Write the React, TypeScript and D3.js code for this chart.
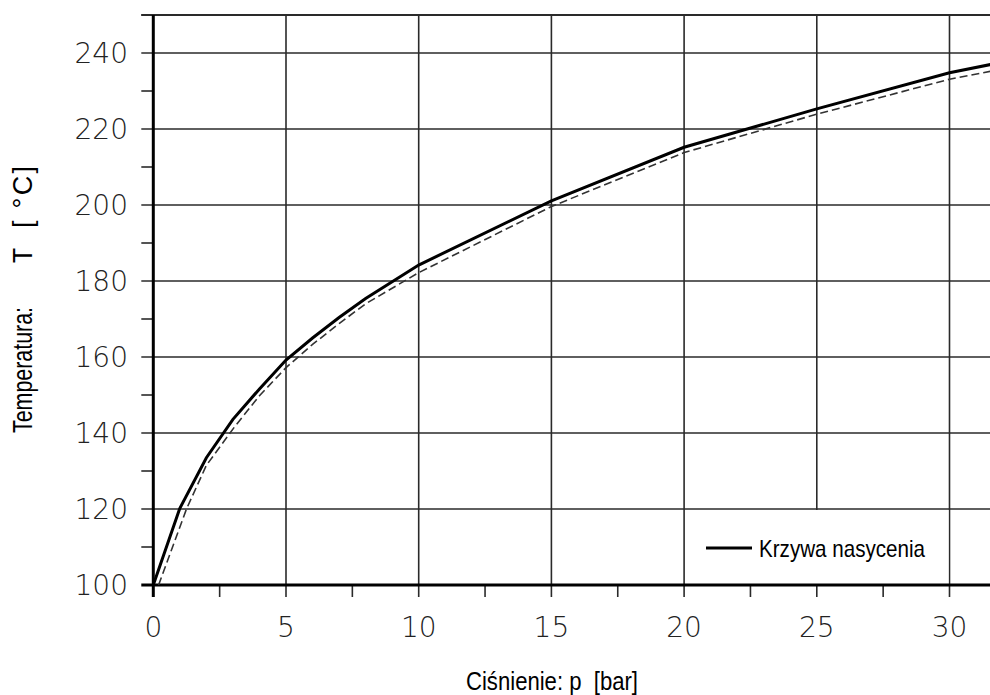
import React from "react";
import * as d3 from "d3";

// Saturation curve (solid) – gauge pressure [bar] vs temperature [°C]
const pSolid = [0, 1, 2, 3, 4, 5, 6, 7, 8, 10, 15, 20, 25, 30, 32];
const tSolid = [100, 120.2, 133.5, 143.6, 151.6, 159.2, 165.0, 170.4, 175.4, 184.2, 201.1, 215.2, 225.3, 234.8, 237.6];

// Second curve (dashed)
const pDashed = [0.2, 1.25, 2, 3.05, 4, 5, 6, 7, 8, 10, 15, 20, 25, 30, 32];
const tDashed = [100, 120, 131.5, 141.5, 149.8, 157.2, 163.3, 168.8, 174.0, 182.2, 199.6, 213.8, 223.9, 233.1, 235.8];

const xMajorTicks = [0, 5, 10, 15, 20, 25, 30];
const xMinorTicks = [2.5, 7.5, 12.5, 17.5, 22.5, 27.5];
const yMajorTicks = [100, 120, 140, 160, 180, 200, 220, 240];
const yMinorTicks = [110, 130, 150, 170, 190, 210, 230, 250];

const xTitle = "Ciśnienie: p  [bar]";
const yTitleParts = ["Temperatura:", "T", "[ °C]"];
const legendLabel = "Krzywa nasycenia";

const W = 990;
const H = 695;

export default function App() {
  const x = d3.scaleLinear().domain([0, 30]).range([153.3, 949.5]);
  const y = d3.scaleLinear().domain([100, 240]).range([585, 53]);

  const line = d3
    .line<[number, number]>()
    .x((d) => x(d[0]))
    .y((d) => y(d[1]))
    .curve(d3.curveLinear);

  const solidData = pSolid.map((p, i) => [p, tSolid[i]] as [number, number]);
  const dashedData = pDashed.map((p, i) => [p, tDashed[i]] as [number, number]);

  const gridColor = "#2a2a2a";
  const tickFont = "'DejaVu Sans', sans-serif";
  const labelFont = "'Liberation Sans', Arial, sans-serif";
  const top = y(250);
  const x0 = x(0);
  const y0 = y(100);
  const tickLen = 12;

  const vGrid = [5, 10, 15, 20, 25, 30];
  const hGrid = [120, 140, 160, 180, 200, 220, 240];

  return (
    <svg
      width={W}
      height={H}
      style={{ position: "absolute", left: 0, top: 0, background: "#fff" }}
    >
      <defs>
        <clipPath id="plot">
          <rect x={x0} y={top} width={W - x0} height={y0 - top} />
        </clipPath>
      </defs>
      <rect x={0} y={0} width={W} height={H} fill="#fff" />

      {/* horizontal grid */}
      {hGrid.map((v) => (
        <line key={"h" + v} x1={x0 - tickLen} x2={W} y1={y(v)} y2={y(v)} stroke={gridColor} strokeWidth={1.6} />
      ))}
      {/* top border */}
      <line x1={x0 - tickLen} x2={W} y1={top} y2={top} stroke={gridColor} strokeWidth={1.8} />

      {/* vertical grid */}
      {vGrid.map((v) => (
        <line key={"v" + v} x1={x(v)} x2={x(v)} y1={top} y2={y0 + tickLen} stroke={gridColor} strokeWidth={1.6} />
      ))}

      {/* legend box masks grid */}
      <rect x={x(20) + 1} y={y(120) + 1} width={x(30) - x(20) - 2} height={y(100) - y(120) - 2} fill="#fff" />

      {/* minor y ticks */}
      {yMinorTicks.map((v) => (
        <line key={"ym" + v} x1={x0 - tickLen} x2={x0} y1={y(v)} y2={y(v)} stroke={gridColor} strokeWidth={1.6} />
      ))}
      {/* minor x ticks */}
      {xMinorTicks.map((v) => (
        <line key={"xm" + v} x1={x(v)} x2={x(v)} y1={y0} y2={y0 + tickLen} stroke={gridColor} strokeWidth={1.6} />
      ))}

      {/* axes */}
      <line x1={x0 - tickLen} x2={W} y1={y0} y2={y0} stroke="#000" strokeWidth={3} />
      <line x1={x0} x2={x0} y1={top} y2={y0 + tickLen} stroke="#000" strokeWidth={3} />

      {/* curves */}
      <g clipPath="url(#plot)">
        <path d={line(dashedData) || ""} fill="none" stroke="#333" strokeWidth={1.6} strokeDasharray="8,4" />
        <path d={line(solidData) || ""} fill="none" stroke="#000" strokeWidth={3} />
      </g>

      {/* y tick labels */}
      {yMajorTicks.map((v) => (
        <text
          key={"yl" + v}
          x={128}
          y={y(v) + 10}
          textAnchor="end"
          fontFamily={tickFont}
          fontWeight={200}
          fontSize={28}
          fill="#222"
        >
          {v}
        </text>
      ))}
      {/* x tick labels */}
      {xMajorTicks.map((v) => (
        <text
          key={"xl" + v}
          x={x(v)}
          y={637}
          textAnchor="middle"
          fontFamily={tickFont}
          fontWeight={200}
          fontSize={28}
          fill="#222"
        >
          {v}
        </text>
      ))}

      {/* x title */}
      <text
        x={466}
        y={690}
        fontFamily={labelFont}
        fontSize={26}
        textLength={172}
        lengthAdjust="spacingAndGlyphs"
        fill="#000"
        style={{ whiteSpace: "pre" }}
      >
        {xTitle}
      </text>

      {/* y title */}
      <g transform="translate(32,0) rotate(-90)">
        <text x={-433} y={0} fontFamily={labelFont} fontSize={27} textLength={126} lengthAdjust="spacingAndGlyphs" fill="#000">
          {yTitleParts[0]}
        </text>
        <text x={-263} y={0} fontFamily={labelFont} fontSize={27} textLength={15} lengthAdjust="spacingAndGlyphs" fill="#000">
          {yTitleParts[1]}
        </text>
        <text
          x={-228}
          y={0}
          fontFamily={labelFont}
          fontSize={27}
          textLength={62}
          lengthAdjust="spacing"
          fill="#000"
          style={{ whiteSpace: "pre" }}
        >
          {yTitleParts[2]}
        </text>
      </g>

      {/* legend */}
      <line x1={706} x2={752} y1={548} y2={548} stroke="#000" strokeWidth={3} />
      <text x={759} y={557} fontFamily={labelFont} fontSize={24} textLength={166} lengthAdjust="spacingAndGlyphs" fill="#000">
        {legendLabel}
      </text>
    </svg>
  );
}
